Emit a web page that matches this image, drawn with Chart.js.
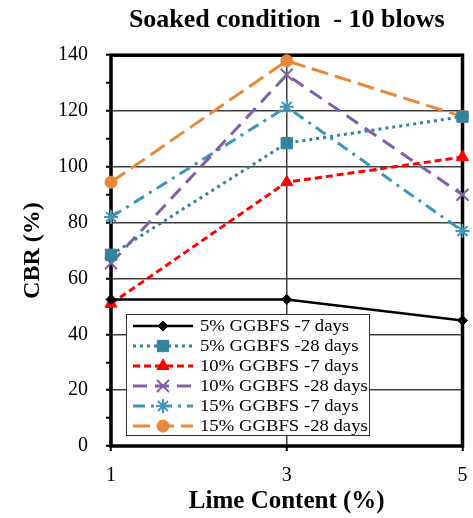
<!DOCTYPE html>
<html>
<head>
<meta charset="utf-8">
<title>Soaked condition - 10 blows</title>
<script src="https://cdn.jsdelivr.net/npm/chart.js@4.4.1/dist/chart.umd.min.js"></script>
<style>
  html, body { margin: 0; padding: 0; background: #fff; }
  canvas { display: block; }
</style>
</head>
<body>
<canvas id="cbr-chart" width="473" height="518"></canvas>
<script>
// Lime content on the x axis, CBR (%) per mix on the y axis
const limeContent = [1, 3, 5];
const yTickValues = [0, 10, 20, 30, 40, 50, 60, 70, 80, 90, 100, 110, 120, 130, 140];
const yLabelEvery = 20;

const seriesLabels = [
  "5% GGBFS -7 days",
  "5% GGBFS -28 days",
  "10% GGBFS -7 days",
  "10% GGBFS -28 days",
  "15% GGBFS -7 days",
  "15% GGBFS -28 days"
];

const ggbfs5Day7 = [52.5, 52.5, 45];
const ggbfs5Day28 = [68.5, 108.5, 118];
const ggbfs10Day7 = [51, 94.5, 103.5];
const ggbfs10Day28 = [65.5, 133, 90];
const ggbfs15Day7 = [82, 121.5, 77];
const ggbfs15Day28 = [94.5, 138, 118];

const SERIF = "'Liberation Serif', 'Times New Roman', serif";

const toPoints = values => limeContent.map((x, i) => ({ x, y: values[i] }));

function series(label, values, color, style, radius, dash, width) {
  return {
    label,
    data: toPoints(values),
    borderColor: color,
    backgroundColor: color,
    pointBackgroundColor: color,
    pointBorderColor: color,
    pointStyle: style,
    pointRadius: radius,
    pointBorderWidth: style === "crossRot" || style === "star" ? 2 : 1,
    borderWidth: width,
    borderDash: dash,
    fill: false,
    tension: 0,
    clip: false
  };
}

const datasets = [
  series(seriesLabels[0], ggbfs5Day7, "#000000", "rectRot", 5, [], 2.5),
  series(seriesLabels[1], ggbfs5Day28, "#31849B", "rect", 8, [3, 4], 3),
  series(seriesLabels[2], ggbfs10Day7, "#FF0000", "triangle", 7, [7, 4], 3),
  series(seriesLabels[3], ggbfs10Day28, "#7F5FA8", "crossRot", 8.5, [14, 8], 3),
  series(seriesLabels[4], ggbfs15Day7, "#3C96B4", "star", 7, [12, 6, 3, 6], 3),
  series(seriesLabels[5], ggbfs15Day28, "#E8883A", "circle", 6, [17, 7], 3)
];

// thick black box round the plot area, under the lines
const plotFrame = {
  id: "plotFrame",
  beforeDatasetsDraw(chart) {
    const { ctx, chartArea: a } = chart;
    ctx.save();
    ctx.strokeStyle = "#000";
    ctx.lineWidth = 3.5;
    ctx.strokeRect(a.left, a.top, a.right - a.left, a.bottom - a.top);
    ctx.restore();
  }
};

// legend box sitting inside the plot, lower left
const insideLegend = {
  id: "insideLegend",
  afterDatasetsDraw(chart) {
    const { ctx } = chart;
    const box = { x: 126, y: 314, w: 243, h: 121 };
    const rowH = 20;
    ctx.save();
    ctx.fillStyle = "#fff";
    ctx.fillRect(box.x, box.y, box.w, box.h);
    ctx.strokeStyle = "#333";
    ctx.lineWidth = 1;
    ctx.strokeRect(box.x + 0.5, box.y + 0.5, box.w, box.h);

    chart.data.datasets.forEach((ds, i) => {
      const y = box.y + 12 + i * rowH;
      ctx.setLineDash(ds.borderDash);
      ctx.strokeStyle = ds.borderColor;
      ctx.lineWidth = ds.borderWidth;
      ctx.beginPath();
      ctx.moveTo(box.x + 7, y);
      ctx.lineTo(box.x + 67, y);
      ctx.stroke();
      ctx.setLineDash([]);
      ctx.fillStyle = ds.pointBackgroundColor;
      ctx.strokeStyle = ds.pointBorderColor;
      ctx.lineWidth = ds.pointBorderWidth;
      Chart.helpers.drawPoint(ctx, {
        pointStyle: ds.pointStyle,
        radius: ds.pointRadius,
        borderWidth: ds.pointBorderWidth,
        rotation: 0
      }, box.x + 37, y);

      // the labels run a little wide, so stretch them sideways
      ctx.save();
      ctx.translate(box.x + 74, y + 1);
      ctx.scale(1.1, 1);
      ctx.fillStyle = "#000";
      ctx.font = `17px ${SERIF}`;
      ctx.textBaseline = "middle";
      ctx.fillText(ds.label, 0, 0);
      ctx.restore();
    });
    ctx.restore();
  }
};

new Chart(document.getElementById("cbr-chart"), {
  type: "line",
  data: { datasets },
  plugins: [plotFrame, insideLegend],
  options: {
    responsive: false,
    animation: false,
    layout: { padding: { left: 0, right: 0, top: 0, bottom: 0 } },
    plugins: {
      legend: { display: false },
      tooltip: { enabled: false },
      title: {
        display: true,
        fullSize: false,
        text: "Soaked condition  - 10 blows",
        color: "#000",
        font: { family: SERIF, size: 26, weight: "bold" },
        padding: { top: 5, bottom: 19 }
      }
    },
    scales: {
      x: {
        type: "linear",
        min: limeContent[0],
        max: limeContent[limeContent.length - 1],
        afterBuildTicks: scale => { scale.ticks = limeContent.map(v => ({ value: v })); },
        afterFit: scale => {
          scale.height = 72;
          scale.paddingLeft = 0;
          scale.paddingRight = 9;
        },
        ticks: {
          color: "#000",
          padding: 13,
          maxRotation: 0,
          font: { family: SERIF, size: 20 }
        },
        grid: {
          color: "#3f3f3f",
          lineWidth: 1.5,
          tickColor: "#000",
          tickWidth: 2,
          tickLength: 5
        },
        border: { display: false },
        title: {
          display: true,
          text: "Lime Content (%)",
          color: "#000",
          font: { family: SERIF, size: 25, weight: "bold" },
          padding: { top: 0, bottom: 1 }
        }
      },
      y: {
        min: yTickValues[0],
        max: yTickValues[yTickValues.length - 1],
        afterBuildTicks: scale => { scale.ticks = yTickValues.map(v => ({ value: v })); },
        afterFit: scale => { scale.width = 111; },
        ticks: {
          autoSkip: false,
          color: "#000",
          padding: 18,
          font: { family: SERIF, size: 20 },
          callback: v => (v % yLabelEvery === 0 ? v : "")
        },
        grid: {
          color: ctx => (ctx.tick && ctx.tick.value % yLabelEvery === 0 ? "#3f3f3f" : "rgba(0,0,0,0)"),
          lineWidth: 1.5,
          tickColor: "#000",
          tickWidth: 2,
          tickLength: 5
        },
        border: { display: false },
        title: {
          display: true,
          text: "CBR (%)",
          color: "#000",
          font: { family: SERIF, size: 24, weight: "bold" },
          padding: { top: 18, bottom: 0 }
        }
      }
    }
  }
});
</script>
</body>
</html>
